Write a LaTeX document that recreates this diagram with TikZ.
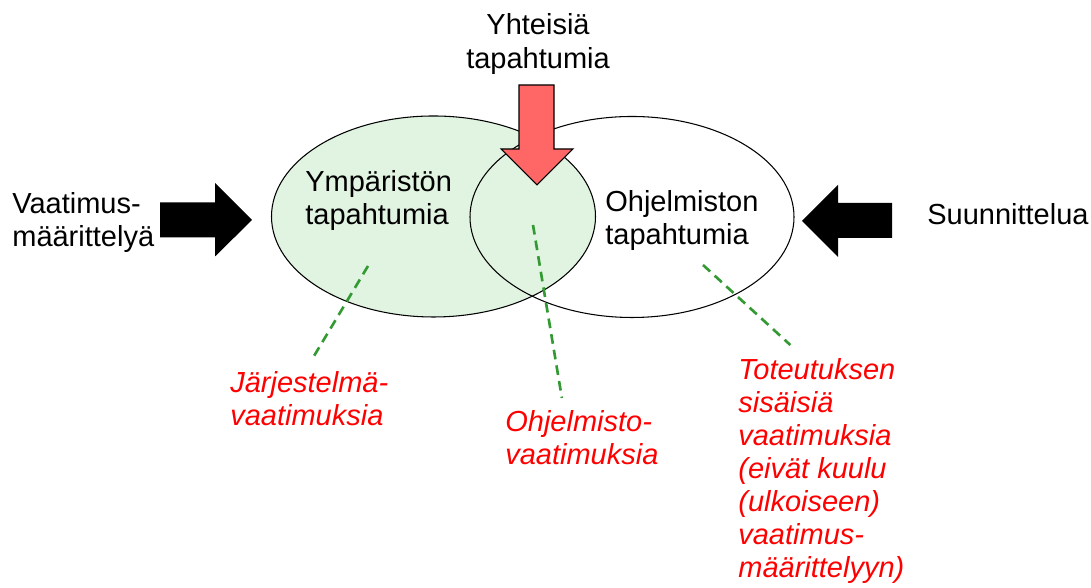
\documentclass[tikz,border=0pt]{standalone}
\usepackage{fontspec}
\setmainfont{Liberation Sans}
\usepackage{tikz}
\usetikzlibrary{shapes.geometric}
\definecolor{setgreen}{RGB}{225,243,225}
\definecolor{linegreen}{RGB}{51,153,51}
\definecolor{arrowred}{RGB}{255,102,102}

\begin{document}
\begin{tikzpicture}
\tikzstyle{evset}=[ellipse,draw=black,line width=0.6pt,minimum width=6.48cm,minimum height=4.02cm,inner sep=0pt]
\tikzstyle{txt}=[inner sep=0pt,align=left,font=\fontsize{16.5}{18.8}\selectfont]
\tikzstyle{req}=[txt,text=red,font=\fontsize{16.5}{18.8}\selectfont\itshape]
\tikzstyle{reqline}=[draw=linegreen,line width=1.5pt,dash pattern=on 5.5pt off 3.5pt]
\tikzstyle{fatarrow}=[fill=black]
\useasboundingbox (0,0) rectangle (21.82,11.76);
% the two sets of events
\node [evset,fill=setgreen] (envset) at (8.67,7.43) {};
\node [evset] (swset) at (12.64,7.42) {};
\coordinate (envpt) at (7.36,6.44);
\coordinate (sharedpt) at (10.66,7.26);
\coordinate (swpt) at (14.06,6.46);
% labels
\node [txt,anchor=west] (reqdef) at (0.24,7.31) {Vaatimus-\\määrittelyä};
\node [txt,align=center] (shared) at (10.76,10.88) {Yhteisiä\\tapahtumia};
\node [txt,anchor=west] (envtxt) at (6.10,7.75) {Ympäristön\\tapahtumia};
\node [txt,anchor=west] (swtxt) at (12.10,7.35) {Ohjelmiston\\tapahtumia};
\node [txt,anchor=west] (design) at (18.54,7.47) {Suunnittelua};
\node [req,anchor=west] (sysreq) at (4.60,3.79) {Järjestelmä-\\vaatimuksia};
\node [req,anchor=west] (swreq) at (10.10,3.01) {Ohjelmisto-\\vaatimuksia};
\node [req,anchor=west] (implreq) at (14.76,2.34) {Toteutuksen\\sisäisiä\\vaatimuksia\\(eivät kuulu\\(ulkoiseen)\\vaatimus-\\määrittelyyn)};
% dashed pointers
\draw [reqline] (envpt) -- ([xshift=0.07cm,yshift=0.26cm]sysreq.north);
\draw [reqline] (sharedpt) -- ([xshift=-0.40cm,yshift=0.24cm]swreq.north);
\draw [reqline] (swpt) -- ([xshift=-0.62cm,yshift=0.26cm]implreq.north);
% block arrows
\fill [fatarrow] (3.20,7.71) -- (4.30,7.71) -- (4.30,8.10) -- (5.04,7.36) -- (4.30,6.63) -- (4.30,7.01) -- (3.20,7.01) -- cycle;
\fill [fatarrow] (16.04,7.34) -- (16.76,8.06) -- (16.76,7.70) -- (17.84,7.70) -- (17.84,7.00) -- (16.76,7.00) -- (16.76,6.62) -- cycle;
\filldraw [fill=arrowred,draw=black,line width=0.6pt] (10.38,10.06) -- (11.08,10.06) -- (11.08,8.78) -- (11.46,8.78) -- (10.74,8.06) -- (10.02,8.78) -- (10.38,8.78) -- cycle;
\end{tikzpicture}
\end{document}
